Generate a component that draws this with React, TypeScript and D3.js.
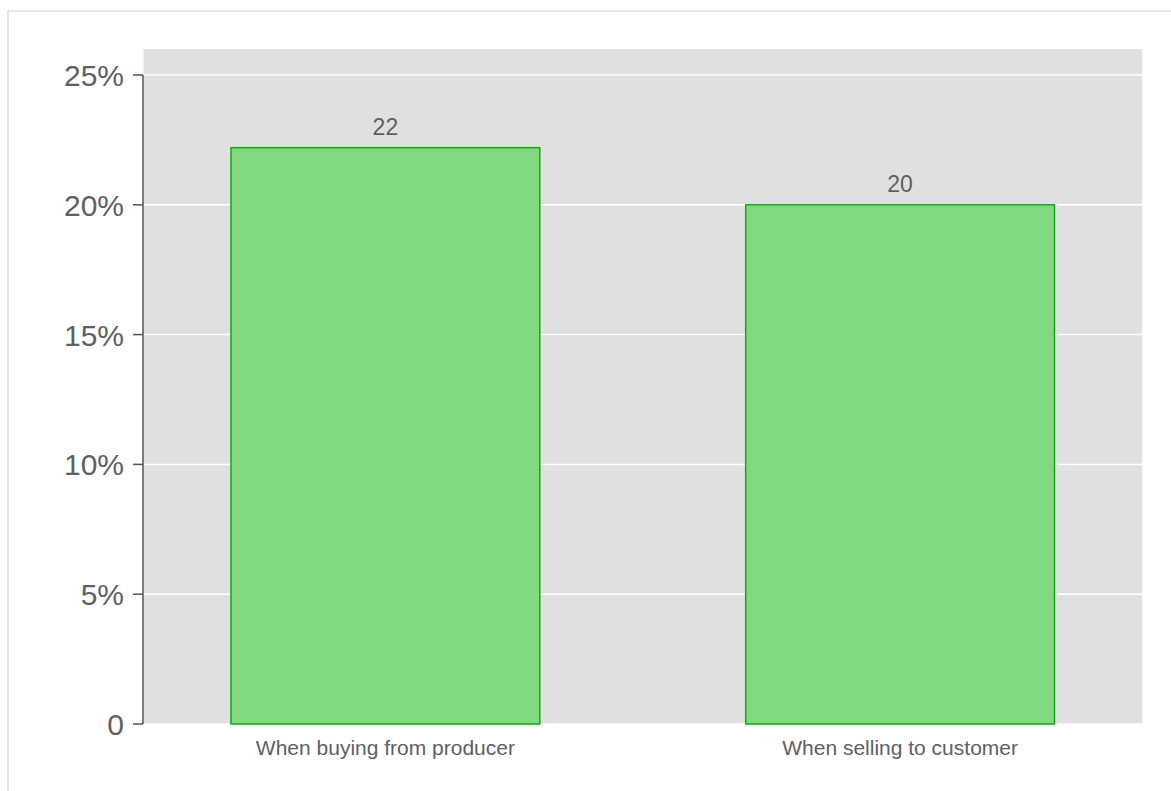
import React from "react";
import * as d3 from "d3";

const categories: string[] = ["When buying from producer", "When selling to customer"];
const values: number[] = [22.2, 20.0];
const valueLabels: string[] = ["22", "20"];
const yTicks: number[] = [0, 5, 10, 15, 20, 25];
const yTickLabels: string[] = ["0", "5%", "10%", "15%", "20%", "25%"];

const W = 1171;
const H = 791;
const plot = { left: 143.5, right: 1142, top: 49, bottom: 724 };
const FONT = "Liberation Sans, Arial, Helvetica, sans-serif";
const TEXT = "#606060";

export default function App() {
  const x = d3
    .scaleBand<string>()
    .domain(categories)
    .range([plot.left, plot.right])
    .paddingInner(0.4)
    .paddingOuter(0.17);
  const y = d3.scaleLinear().domain([0, 25]).range([plot.bottom, 75]);

  return (
    <svg
      width={W}
      height={H}
      style={{ position: "absolute", left: 0, top: 0, background: "#fff" }}
      fontFamily={FONT}
    >
      {/* outer frame */}
      <line x1={8} x2={W} y1={11} y2={11} stroke="#e6e6e6" strokeWidth={2} />
      <line x1={8} x2={8} y1={10} y2={H} stroke="#e6e6e6" strokeWidth={2} />

      {/* plot background */}
      <rect
        x={plot.left}
        y={plot.top}
        width={plot.right - plot.left}
        height={plot.bottom - plot.top}
        fill="#e0e0e0"
      />

      {/* gridlines */}
      {yTicks.map((t) => (
        <line
          key={"g" + t}
          x1={plot.left}
          x2={plot.right}
          y1={y(t)}
          y2={y(t)}
          stroke="#ffffff"
          strokeWidth={1.5}
        />
      ))}

      {/* bars */}
      {categories.map((c, i) => (
        <rect
          key={c}
          x={x(c)}
          y={y(values[i])}
          width={x.bandwidth()}
          height={y(0) - y(values[i])}
          fill="#80d981"
          stroke="#0fae0f"
          strokeWidth={1.5}
        />
      ))}

      {/* value labels */}
      {categories.map((c, i) => (
        <text
          key={"v" + c}
          x={(x(c) as number) + x.bandwidth() / 2}
          y={y(values[i]) - 13}
          textAnchor="middle"
          fontSize={23}
          fill={TEXT}
        >
          {valueLabels[i]}
        </text>
      ))}

      {/* y axis */}
      <line x1={143} x2={143} y1={y(25)} y2={y(0)} stroke="#555" strokeWidth={1.5} />
      {yTicks.map((t, i) => (
        <g key={"t" + t}>
          <line x1={133} x2={143} y1={y(t)} y2={y(t)} stroke="#555" strokeWidth={1.5} />
          <text
            x={124}
            y={y(t) + 11}
            textAnchor="end"
            fontSize={30}
            fill={TEXT}
          >
            {yTickLabels[i]}
          </text>
        </g>
      ))}

      {/* x labels */}
      {categories.map((c) => (
        <text
          key={"x" + c}
          x={(x(c) as number) + x.bandwidth() / 2}
          y={755}
          textAnchor="middle"
          fontSize={21}
          fill={TEXT}
        >
          {c}
        </text>
      ))}
    </svg>
  );
}
